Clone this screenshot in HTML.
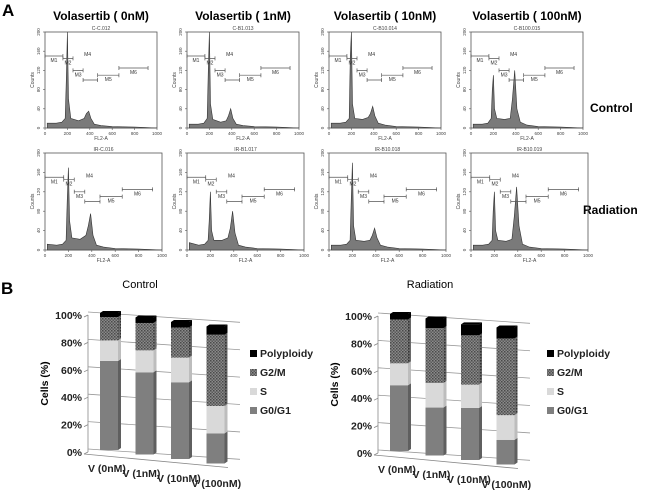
<!DOCTYPE html>
<html><head><meta charset="utf-8">
<style>
html,body{margin:0;padding:0;background:#fff;}
svg{display:block;font-family:"Liberation Sans",sans-serif;}
.b{font-weight:bold;}
</style></head>
<body>
<svg id="fig" width="650" height="493" viewBox="0 0 650 493" xmlns="http://www.w3.org/2000/svg">
<defs>
<pattern id="hatch" width="3" height="3" patternUnits="userSpaceOnUse">
<rect width="3" height="3" fill="#8a8a8a"/>
<rect width="1.5" height="1.5" fill="#4a4a4a"/>
<rect x="1.5" y="1.5" width="1.5" height="1.5" fill="#5a5a5a"/>
</pattern>
<pattern id="hatchD" width="3" height="3" patternUnits="userSpaceOnUse">
<rect width="3" height="3" fill="#6a6a6a"/>
<rect width="1.5" height="1.5" fill="#333"/>
</pattern>
</defs>
<text x="2" y="16" font-size="17" class="b">A</text>
<text x="1" y="294" font-size="17" class="b">B</text>
<text x="590" y="112" font-size="12" class="b">Control</text>
<text x="583" y="214" font-size="12" class="b">Radiation</text>
<g id="hist"></g>
<g id="bars"></g>
</svg>
<script>
// ---------- Histogram data ----------
const histTitles = ["Volasertib ( 0nM)", "Volasertib ( 1nM)", "Volasertib ( 10nM)", "Volasertib ( 100nM)"];
const sampleIds = ["C-C.012","C-B1.013","C-B10.014","C-B100.015","IR-C.016","IR-B1.017","IR-B10.018","IR-B10.019"];
const channels = [20,100,150,180,190,200,210,230,300,350,370,390,410,440,500,600,800,1000];
const countsC0 = [10,10,12,20,100,200,60,20,15,20,30,35,20,8,5,3,2,0];
const countsC1 = [8,8,10,20,120,200,50,18,12,15,25,40,20,8,5,3,2,0];
const countsC10 = [10,10,12,20,150,200,50,20,18,22,30,45,25,10,6,3,2,0];
const countsC100 = [8,8,10,20,80,110,40,20,18,20,60,120,40,12,6,3,2,0];
const countsR0 = [12,10,12,20,100,170,60,25,22,30,50,75,30,10,6,3,2,0];
const countsR1 = [15,10,12,20,60,120,40,20,20,25,45,80,35,10,6,3,2,0];
const countsR10 = [10,10,12,20,100,180,50,20,18,20,30,45,25,10,6,3,2,0];
const countsR100 = [10,10,12,20,80,120,40,20,18,22,70,130,50,12,6,3,2,0];
const yTicks = [0,40,80,120,160,200];
const xTicks = [0,200,400,600,800,1000];
const gateNames = ["M1","M2","M3","M4","M5","M6"];
const gateStart = [0,160,250,340,470,660];
const gateEnd = [160,250,340,470,660,920];
const gateLevel = [150,145,120,100,110,125];

const NS="http://www.w3.org/2000/svg";
function mk(tag, attrs, parent, txt){const e=document.createElementNS(NS,tag);for(const k in attrs)e.setAttribute(k,attrs[k]);if(txt!==undefined)e.textContent=txt;parent.appendChild(e);return e;}

const hist=document.getElementById('hist');
const allCounts=[countsC0,countsC1,countsC10,countsC100,countsR0,countsR1,countsR10,countsR100];
for(let p=0;p<8;p++){
  const r=Math.floor(p/4), c=p%4;
  const x0=45+142*c, w=r?117:112, y0=r?153:32, y1=r?250:128;
  const sx=v=>x0+v/1000*w, sy=v=>y1-v/200*(y1-y0);
  const g=mk('g',{},hist);
  
  
  if(r===0){
    const t=mk('text',{x:x0+w/2,y:20,'text-anchor':'middle','font-size':12,'class':'b'},g,histTitles[c]);
    
    
  }
  mk('text',{x:x0+w/2,y:y0-2,'text-anchor':'middle','font-size':5,fill:'#444'},g,sampleIds[p]);
  mk('rect',{x:x0,y:y0,width:w,height:y1-y0,fill:'none',stroke:'#555','stroke-width':0.8},g);
  const cs=allCounts[p];
  let d='M'+sx(channels[0])+','+sy(0);
  for(let i=0;i<channels.length;i++) d+=' L'+sx(channels[i]).toFixed(1)+','+sy(cs[i]).toFixed(1);
  d+=' L'+sx(1000)+','+sy(0)+'Z';
  const path=mk('path',{d:d,fill:'#7a7a7a',stroke:'#333','stroke-width':0.6},g);
  
  
  for(let i=0;i<6;i++){
    const yy=sy(gateLevel[i]);
    mk('path',{d:`M${sx(gateStart[i])},${yy}H${sx(gateEnd[i])}M${sx(gateStart[i])},${yy-2}v4M${sx(gateEnd[i])},${yy-2}v4`,stroke:'#555','stroke-width':0.7,fill:'none'},g);
    const lx=i===3?sx(380):(sx(gateStart[i])+sx(gateEnd[i]))/2;
    const ly=i===3?sy(150):yy+6;
    mk('text',{x:lx,y:ly,'text-anchor':'middle','font-size':5,fill:'#333'},g,gateNames[i]);
  }
  yTicks.forEach(v=>{const yy=sy(v);mk('line',{x1:x0-2,x2:x0,y1:yy,y2:yy,stroke:'#555','stroke-width':0.6},g);
    mk('text',{x:x0-5,y:yy,'font-size':4.5,'text-anchor':'middle',transform:`rotate(-90 ${x0-5} ${yy})`,fill:'#444'},g,v);});
  xTicks.forEach(v=>{const xx=sx(v);mk('line',{x1:xx,x2:xx,y1:y1,y2:y1+2,stroke:'#555','stroke-width':0.6},g);
    mk('text',{x:xx,y:y1+7,'font-size':4.5,'text-anchor':'middle',fill:'#444'},g,v);});
  mk('text',{x:x0+w/2,y:y1+12,'font-size':5,'text-anchor':'middle',fill:'#444'},g,'FL2-A');
  mk('text',{x:x0-11,y:(y0+y1)/2,'font-size':5,'text-anchor':'middle',transform:`rotate(-90 ${x0-11} ${(y0+y1)/2})`,fill:'#444'},g,'Counts');
}

// ---------- Stacked bar data ----------
const categories = ["V (0nM)","V (1nM)","V (10nM)","V (100nM)"];
const phases = ["G0/G1","S","G2/M","Polyploidy"];
const ctrlG1 = [65,60,56,22];
const ctrlS = [15,16,18,20];
const ctrlG2M = [17,20,22,52];
const ctrlPoly = [3,4,4,6];
const radG1 = [48,35,38,18];
const radS = [16,18,17,18];
const radG2M = [32,40,36,56];
const radPoly = [4,7,8,8];
const pctTicks = ["0%","20%","40%","60%","80%","100%"];

const fills=['#7f7f7f','#d9d9d9','url(#hatch)','#000'];
const sides=['#5f5f5f','#bdbdbd','url(#hatchD)','#000'];
const bars=document.getElementById('bars');
function chart(name,title,ax,ay,lx,series){
  const g=mk('g',{},bars);
  
  
  const slope=0.068, H=137, right=ax+152;
  const t=mk('text',{x:ax+52,y:288,'text-anchor':'middle','font-size':11},g,title);
  
  
  // walls & grid
  mk('line',{x1:ax,y1:ay,x2:ax,y2:ay-H,stroke:'#888','stroke-width':0.8},g);
  pctTicks.forEach((lab,k)=>{
    const yy=ay-k*H/5;
    mk('line',{x1:ax-4,y1:yy+2,x2:ax,y2:yy,stroke:'#888','stroke-width':0.8},g);
    mk('line',{x1:ax,y1:yy-3,x2:right,y2:yy-3+152*slope,stroke:'#999','stroke-width':0.8},g);
    mk('text',{x:ax-6,y:yy+4,'text-anchor':'end','font-size':10.5,'class':'b',fill:'#222'},g,lab);
  });
  mk('line',{x1:ax-4,y1:ay+2,x2:right-12,y2:ay+2+140*slope+4,stroke:'#888','stroke-width':0.8},g);
  const yl=mk('text',{x:ax-40,y:ay-H/2,'text-anchor':'middle','font-size':10.5,'class':'b',transform:`rotate(-90 ${ax-40} ${ay-H/2})`},g,'Cells (%)');
  
  
  categories.forEach((cat,i)=>{
    const bx=ax+12+i*35.5, bw=18, by=ay-2+i*4.5;
    let acc=0;
    for(let s=0;s<4;s++){
      const v=series[s][i];
      const yTop=by-(acc+v)/100*H, yBot=by-acc/100*H;
      const r=mk('rect',{x:bx,y:yTop,width:bw,height:yBot-yTop,fill:fills[s]},g);
      
      
      mk('polygon',{points:`${bx+bw},${yTop} ${bx+bw+3},${yTop-2} ${bx+bw+3},${yBot-2} ${bx+bw},${yBot}`,fill:sides[s]},g);
      acc+=v;
    }
    const yT=by-acc/100*H;
    mk('polygon',{points:`${bx},${yT} ${bx+3},${yT-2} ${bx+bw+3},${yT-2} ${bx+bw},${yT}`,fill:'#000'},g);
    const xl=mk('text',{x:ax+i*34.5,y:ay+20+i*5,'font-size':10.5,'class':'b',fill:'#222'},g,cat);
    
    
  });
  // legend
  for(let s=3;s>=0;s--){
    const yy=357+(3-s)*19;
    const lg=mk('g',{},g);
    
    
    mk('rect',{x:lx,y:yy-7,width:7,height:7,fill:fills[s]},lg);
    mk('text',{x:lx+10,y:yy,'font-size':10.5,'class':'b',fill:'#222'},lg,phases[s]);
  }
}
chart('control-bar-chart','Control',88,452,250,[ctrlG1,ctrlS,ctrlG2M,ctrlPoly]);
chart('radiation-bar-chart','Radiation',378,453,547,[radG1,radS,radG2M,radPoly]);
</script>
</body></html>
